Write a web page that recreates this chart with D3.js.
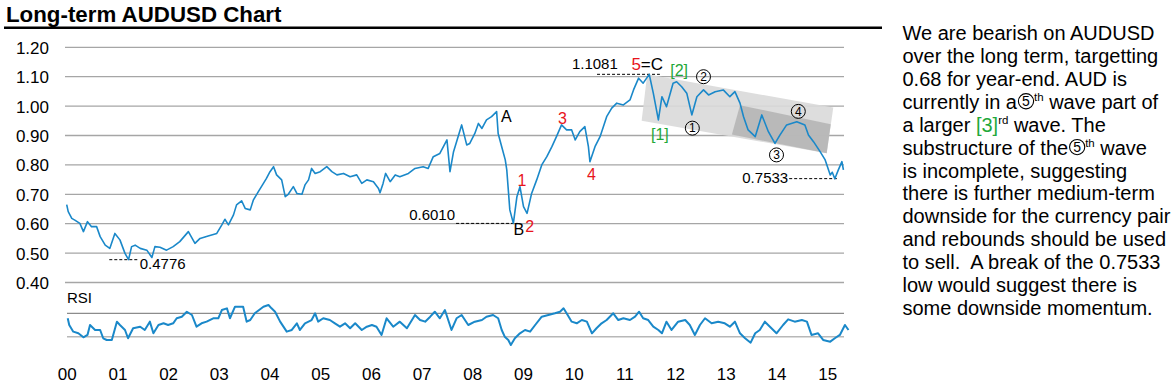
<!DOCTYPE html>
<html>
<head>
<meta charset="utf-8">
<script src="https://cdn.jsdelivr.net/npm/d3@7"></script>
<style>
  html, body { margin: 0; padding: 0; background: #fff; }
  svg text { font-family: "Liberation Sans", Arial, sans-serif; white-space: pre; }
</style>
</head>
<body>
<svg id="chart" width="1175" height="387"></svg>
<script>
// AUDUSD weekly-ish closes: [decimal year, price]
const priceData = [
  [2000.00, 0.665], [2000.03, 0.641], [2000.10, 0.618], [2000.16, 0.612], [2000.26, 0.601],
  [2000.33, 0.573], [2000.41, 0.607], [2000.49, 0.590], [2000.59, 0.590], [2000.66, 0.556],
  [2000.76, 0.527], [2000.85, 0.516], [2000.95, 0.567], [2001.05, 0.545], [2001.15, 0.499],
  [2001.22, 0.478], [2001.28, 0.522], [2001.35, 0.527], [2001.45, 0.516], [2001.58, 0.510],
  [2001.68, 0.485], [2001.74, 0.522], [2001.84, 0.520], [2001.97, 0.510], [2002.10, 0.522],
  [2002.23, 0.539], [2002.40, 0.573], [2002.53, 0.533], [2002.63, 0.550], [2002.79, 0.558],
  [2002.96, 0.567], [2003.06, 0.596], [2003.12, 0.615], [2003.19, 0.596], [2003.29, 0.630],
  [2003.35, 0.664], [2003.45, 0.678], [2003.52, 0.652], [2003.62, 0.647], [2003.68, 0.680],
  [2003.78, 0.709], [2003.88, 0.737], [2003.94, 0.754], [2004.01, 0.777], [2004.08, 0.794],
  [2004.14, 0.766], [2004.24, 0.749], [2004.31, 0.692], [2004.37, 0.700], [2004.47, 0.726],
  [2004.54, 0.703], [2004.64, 0.700], [2004.70, 0.732], [2004.77, 0.749], [2004.83, 0.788],
  [2004.90, 0.771], [2005.00, 0.777], [2005.13, 0.794], [2005.23, 0.777], [2005.33, 0.766],
  [2005.46, 0.771], [2005.59, 0.760], [2005.72, 0.766], [2005.82, 0.737], [2005.92, 0.749],
  [2006.05, 0.743], [2006.15, 0.720], [2006.18, 0.705], [2006.24, 0.737], [2006.29, 0.771],
  [2006.38, 0.743], [2006.48, 0.766], [2006.57, 0.760], [2006.74, 0.771], [2006.87, 0.788],
  [2007.03, 0.794], [2007.13, 0.788], [2007.23, 0.828], [2007.36, 0.839], [2007.50, 0.885],
  [2007.56, 0.777], [2007.63, 0.845], [2007.76, 0.919], [2007.79, 0.936], [2007.89, 0.868],
  [2007.95, 0.873], [2008.05, 0.907], [2008.12, 0.941], [2008.19, 0.924], [2008.28, 0.953],
  [2008.38, 0.964], [2008.48, 0.981], [2008.51, 0.907], [2008.58, 0.862], [2008.65, 0.817],
  [2008.68, 0.783], [2008.71, 0.715], [2008.74, 0.647], [2008.81, 0.601], [2008.88, 0.692],
  [2008.94, 0.726], [2009.01, 0.658], [2009.08, 0.635], [2009.17, 0.703], [2009.27, 0.749],
  [2009.37, 0.800], [2009.47, 0.828], [2009.57, 0.862], [2009.66, 0.896], [2009.76, 0.936],
  [2009.86, 0.919], [2009.96, 0.919], [2010.03, 0.885], [2010.12, 0.913], [2010.22, 0.930],
  [2010.29, 0.862], [2010.32, 0.811], [2010.42, 0.862], [2010.52, 0.896], [2010.65, 0.964],
  [2010.75, 0.993], [2010.85, 1.010], [2010.98, 1.004], [2011.11, 1.021], [2011.18, 1.055],
  [2011.28, 1.095], [2011.37, 1.078], [2011.49, 1.108], [2011.57, 1.044], [2011.67, 0.953],
  [2011.74, 1.032], [2011.83, 0.998], [2011.96, 1.078], [2012.03, 1.083], [2012.13, 1.066],
  [2012.23, 1.044], [2012.33, 0.970], [2012.43, 1.032], [2012.56, 1.055], [2012.66, 1.038],
  [2012.79, 1.049], [2012.95, 1.055], [2013.08, 1.032], [2013.18, 1.049], [2013.28, 1.010],
  [2013.35, 0.964], [2013.44, 0.919], [2013.58, 0.896], [2013.71, 0.970], [2013.84, 0.913],
  [2013.97, 0.873], [2014.07, 0.902], [2014.20, 0.936], [2014.40, 0.947], [2014.56, 0.936],
  [2014.63, 0.902], [2014.73, 0.879], [2014.86, 0.845], [2014.96, 0.817], [2015.06, 0.766],
  [2015.10, 0.775], [2015.15, 0.753], [2015.22, 0.783], [2015.29, 0.811], [2015.32, 0.783]
];

// RSI, same time axis
const rsiData = [
  [2000.02, 61.5], [2000.05, 50.0], [2000.13, 38.6], [2000.23, 35.8], [2000.33, 29.0],
  [2000.41, 33.0], [2000.46, 50.0], [2000.56, 41.5], [2000.66, 41.5], [2000.72, 27.3],
  [2000.79, 24.4], [2000.89, 24.4], [2000.99, 55.7], [2001.05, 50.0], [2001.15, 41.5],
  [2001.21, 27.3], [2001.31, 44.4], [2001.45, 47.1], [2001.54, 41.5], [2001.64, 55.7],
  [2001.71, 35.8], [2001.81, 50.0], [2001.91, 52.9], [2002.00, 50.0], [2002.10, 52.9],
  [2002.17, 61.5], [2002.27, 64.2], [2002.37, 72.7], [2002.47, 67.1], [2002.56, 47.1],
  [2002.66, 52.9], [2002.76, 55.7], [2002.89, 61.5], [2002.99, 61.5], [2003.06, 75.6],
  [2003.16, 78.5], [2003.22, 61.5], [2003.32, 81.3], [2003.38, 81.3], [2003.48, 81.3],
  [2003.55, 55.7], [2003.62, 58.5], [2003.71, 70.0], [2003.88, 81.3], [2003.98, 84.2],
  [2004.04, 78.5], [2004.11, 72.7], [2004.21, 55.7], [2004.34, 38.6], [2004.44, 41.5],
  [2004.54, 52.9], [2004.60, 41.5], [2004.70, 52.9], [2004.83, 58.5], [2004.90, 70.0],
  [2004.96, 55.7], [2005.06, 61.5], [2005.19, 58.5], [2005.29, 52.9], [2005.39, 47.1],
  [2005.49, 52.9], [2005.59, 44.4], [2005.69, 52.9], [2005.82, 41.5], [2005.92, 47.1],
  [2006.02, 50.0], [2006.11, 47.1], [2006.21, 33.0], [2006.31, 61.5], [2006.44, 47.1],
  [2006.57, 55.7], [2006.71, 44.4], [2006.87, 67.1], [2006.97, 58.5], [2007.07, 55.7],
  [2007.17, 64.2], [2007.26, 72.7], [2007.36, 61.5], [2007.46, 75.6], [2007.59, 41.5],
  [2007.69, 61.5], [2007.79, 67.1], [2007.92, 50.0], [2008.05, 55.7], [2008.19, 58.5],
  [2008.28, 64.2], [2008.41, 67.1], [2008.51, 61.5], [2008.58, 41.5], [2008.64, 30.0],
  [2008.71, 24.4], [2008.76, 15.8], [2008.84, 27.3], [2008.94, 35.8], [2009.04, 41.5],
  [2009.14, 38.6], [2009.24, 50.0], [2009.37, 64.2], [2009.50, 67.1], [2009.63, 70.0],
  [2009.73, 72.7], [2009.80, 78.5], [2009.86, 70.0], [2009.96, 55.7], [2010.06, 52.9],
  [2010.16, 58.5], [2010.26, 55.7], [2010.36, 35.8], [2010.45, 44.4], [2010.55, 52.9],
  [2010.65, 58.5], [2010.78, 70.0], [2010.88, 58.5], [2010.98, 61.5], [2011.11, 58.5],
  [2011.21, 64.2], [2011.29, 72.7], [2011.37, 61.5], [2011.47, 58.5], [2011.57, 47.1],
  [2011.67, 41.5], [2011.74, 35.8], [2011.83, 55.7], [2011.93, 41.5], [2012.06, 55.7],
  [2012.20, 58.5], [2012.29, 50.0], [2012.39, 33.0], [2012.49, 50.0], [2012.59, 61.5],
  [2012.72, 52.9], [2012.85, 55.7], [2012.98, 52.9], [2013.08, 47.1], [2013.18, 55.7],
  [2013.28, 35.8], [2013.38, 27.3], [2013.49, 19.8], [2013.58, 35.8], [2013.67, 41.5],
  [2013.77, 55.7], [2013.87, 47.1], [2014.00, 35.8], [2014.13, 50.0], [2014.23, 59.7],
  [2014.36, 55.7], [2014.50, 58.5], [2014.60, 55.7], [2014.69, 33.0], [2014.82, 35.8],
  [2014.92, 24.4], [2015.06, 21.5], [2015.15, 27.3], [2015.25, 33.0], [2015.35, 50.0],
  [2015.42, 41.5]
];

const priceTicks = [0.40, 0.50, 0.60, 0.70, 0.80, 0.90, 1.00, 1.10, 1.20];
const rsiLevels = [70, 30];
const yearLabels = ["00", "01", "02", "03", "04", "05", "06", "07", "08", "09", "10", "11", "12", "13", "14", "15"];

// wave labels: [year, price, text, colour]
const waveLabels = [
  [2008.67, 0.945, "A", "#000"],
  [2008.92, 0.563, "B", "#000"],
  [2008.98, 0.728, "1", "#e8141c"],
  [2009.13, 0.573, "2", "#e8141c"],
  [2009.78, 0.939, "3", "#e8141c"],
  [2010.35, 0.750, "4", "#e8141c"],
  [2011.70, 0.884, "[1]", "#1fa83a"],
  [2012.08, 1.101, "[2]", "#1fa83a"]
];
const circledLabels = [
  [2012.34, 0.925, "1"],
  [2012.56, 1.100, "2"],
  [2014.00, 0.834, "3"],
  [2014.43, 0.982, "4"]
];
// level markers: [from year, to year, price, label]
const levels = [
  [2000.84, 2001.42, 0.4776, "0.4776"],
  [2007.68, 2008.90, 0.6010, "0.6010"],
  [2010.46, 2011.70, 1.1081, "1.1081"],
  [2014.25, 2015.19, 0.7533, "0.7533"]
];
// shaded channels, corners as [year, price]
const outerChannel = [[2011.45, 1.108], [2015.12, 0.995], [2014.99, 0.840], [2011.34, 0.950]];
const innerChannel = [[2013.28, 1.003], [2015.07, 0.938], [2014.99, 0.840], [2013.12, 0.903]];

// commentary; "circ" parts are drawn as a circled digit
const commentLines = [
  [{t: "We are bearish on AUDUSD"}],
  [{t: "over the long term, targetting"}],
  [{t: "0.68 for year-end. AUD is"}],
  [{t: "currently in a"}, {circ: "5"}, {t: "th", sup: true}, {t: " wave part of"}],
  [{t: "a larger "}, {t: "[3]", c: "#1fa83a"}, {t: "rd", sup: true}, {t: " wave. The"}],
  [{t: "substructure of the"}, {circ: "5"}, {t: "th", sup: true}, {t: " wave"}],
  [{t: "is incomplete, suggesting"}],
  [{t: "there is further medium-term"}],
  [{t: "downside for the currency pair"}],
  [{t: "and rebounds should be used"}],
  [{t: "to sell.  A break of the 0.7533"}],
  [{t: "low would suggest there is"}],
  [{t: "some downside momentum."}]
];

const svg = d3.select("#chart");
const lineColor = "#1a88c9";

// title
svg.append("text")
  .attr("x", 6).attr("y", 21.5)
  .attr("font-size", 22.3).attr("font-weight", "bold")
  .text("Long-term AUDUSD Chart");
svg.append("line")
  .attr("x1", 4).attr("x2", 882).attr("y1", 27.7).attr("y2", 27.7)
  .attr("stroke", "#000").attr("stroke-width", 2.4);

const x = d3.scaleLinear().domain([2000, 2015]).range([66.7, 827.2]);
const y = d3.scaleLinear().domain([0.40, 1.20]).range([282.5, 47.3]);
const yRsi = d3.scaleLinear().domain([30, 70]).range([336.7, 313.3]);
const plotLeft = 65, plotRight = 844;

// price grid + labels
const yAxis = d3.axisLeft(y).tickValues(priceTicks).tickFormat(d3.format(".2f")).tickSize(0).tickPadding(0);
const gy = svg.append("g").attr("transform", "translate(49,0)").call(yAxis);
gy.select(".domain").remove();
gy.selectAll("text").attr("font-size", 17).attr("fill", "#000")
  .attr("font-family", "Liberation Sans, Arial, sans-serif").attr("dy", "0.35em");

svg.append("g").selectAll("line").data(priceTicks).join("line")
  .attr("x1", plotLeft).attr("x2", plotRight)
  .attr("y1", d => y(d)).attr("y2", d => y(d))
  .attr("stroke", "#a6a6a6").attr("stroke-width", 1.3);

// channels
const toPts = arr => arr.map(p => [x(p[0]), y(p[1])].join(",")).join(" ");
svg.append("polygon").attr("points", toPts(outerChannel))
  .attr("fill", "#d9d9d9").attr("fill-opacity", 0.9);
svg.append("polygon").attr("points", toPts(innerChannel))
  .attr("fill", "#b3b3b3").attr("fill-opacity", 0.85);

// level markers
const lv = svg.append("g");
levels.forEach(([t0, t1, v]) => {
  lv.append("line")
    .attr("x1", x(t0)).attr("x2", x(t1)).attr("y1", y(v)).attr("y2", y(v))
    .attr("stroke", "#000").attr("stroke-width", 1).attr("stroke-dasharray", "3,2");
});
lv.append("text").attr("x", x(2001.44)).attr("y", y(0.4776) + 9).attr("font-size", 15).text(levels[0][3]);
lv.append("text").attr("x", x(2007.68) - 1).attr("y", y(0.6010) - 3).attr("font-size", 15)
  .attr("text-anchor", "end").text(levels[1][3]);
lv.append("text").attr("x", x(2010.87)).attr("y", y(1.1081) - 5).attr("font-size", 15)
  .attr("text-anchor", "end").text(levels[2][3]);
lv.append("text").attr("x", x(2014.25) - 1).attr("y", y(0.7533) + 4).attr("font-size", 15)
  .attr("text-anchor", "end").text(levels[3][3]);

// price line
const line = d3.line().x(d => x(d[0])).y(d => y(d[1]));
svg.append("path").datum(priceData)
  .attr("d", line).attr("fill", "none")
  .attr("stroke", lineColor).attr("stroke-width", 1.6).attr("stroke-linejoin", "round");

// wave labels
svg.append("g").selectAll("text").data(waveLabels).join("text")
  .attr("x", d => x(d[0])).attr("y", d => y(d[1]))
  .attr("text-anchor", "middle").attr("font-size", 16)
  .attr("fill", d => d[3]).text(d => d[2]);

// 5=C
const fc = svg.append("text").attr("x", x(2011.49) - 2).attr("y", 69.5)
  .attr("text-anchor", "middle").attr("font-size", 17);
fc.append("tspan").attr("fill", "#e8141c").text("5");
fc.append("tspan").attr("fill", "#000").text("=C");

// circled wave counts
const circ = svg.append("g").selectAll("g").data(circledLabels).join("g")
  .attr("transform", d => "translate(" + x(d[0]) + "," + y(d[1]) + ")");
circ.append("circle").attr("r", 7).attr("fill", "none")
  .attr("stroke", "#000").attr("stroke-width", 1);
circ.append("text").attr("text-anchor", "middle").attr("dy", "0.36em")
  .attr("font-size", 12).text(d => d[2]);

// RSI panel
svg.append("text").attr("x", 67).attr("y", 303).attr("font-size", 15).text("RSI");
svg.append("line").attr("x1", 67).attr("x2", plotRight)
  .attr("y1", yRsi(rsiLevels[0])).attr("y2", yRsi(rsiLevels[0]))
  .attr("stroke", "#8c8c8c").attr("stroke-width", 1.2);
svg.append("line").attr("x1", 67).attr("x2", plotRight)
  .attr("y1", yRsi(rsiLevels[1])).attr("y2", yRsi(rsiLevels[1]))
  .attr("stroke", "#b8b8b8").attr("stroke-width", 1.6);
const rsiLine = d3.line().x(d => x(d[0])).y(d => yRsi(d[1]));
svg.append("path").datum(rsiData)
  .attr("d", rsiLine).attr("fill", "none")
  .attr("stroke", lineColor).attr("stroke-width", 2).attr("stroke-linejoin", "round");

// year labels
const xAxis = d3.axisBottom(x).tickValues(d3.range(2000, 2016)).tickSize(0).tickPadding(0)
  .tickFormat((d, i) => yearLabels[i]);
const gx = svg.append("g").attr("transform", "translate(0,368)").call(xAxis);
gx.select(".domain").remove();
gx.selectAll("text").attr("font-size", 17).attr("fill", "#000")
  .attr("font-family", "Liberation Sans, Arial, sans-serif").attr("dy", "0.71em");

// commentary
const textX = 902.5, circW = 17;
const para = svg.append("g");
commentLines.forEach((parts, i) => {
  const baseY = 40 + i * 22.92;
  const row = para.append("text").attr("font-size", 20).attr("fill", "#000")
    .attr("x", textX).attr("y", baseY);
  let used = 0, pendingDx = 0, raised = false;
  parts.forEach(p => {
    if (p.circ) {
      // leave room, then draw the circled digit in that gap
      const cx = textX + used + circW / 2 + 0.5;
      para.append("circle").attr("cx", cx).attr("cy", baseY - 7.5).attr("r", 7.6)
        .attr("fill", "none").attr("stroke", "#000").attr("stroke-width", 1.1);
      para.append("text").attr("x", cx).attr("y", baseY - 2.6)
        .attr("text-anchor", "middle").attr("font-size", 14).text(p.circ);
      pendingDx = circW;
      used += circW;
      return;
    }
    const s = row.append("tspan").text(p.t);
    let dx = pendingDx;
    pendingDx = 0;
    if (p.sup) {
      s.attr("font-size", 11.5).attr("dy", -8);
      raised = true;
    } else if (raised) {
      s.attr("dy", 8);
      raised = false;
    }
    if (dx) s.attr("dx", dx);
    if (p.c) s.attr("fill", p.c);
    used += s.node().getComputedTextLength();
  });
});
</script>
</body>
</html>
